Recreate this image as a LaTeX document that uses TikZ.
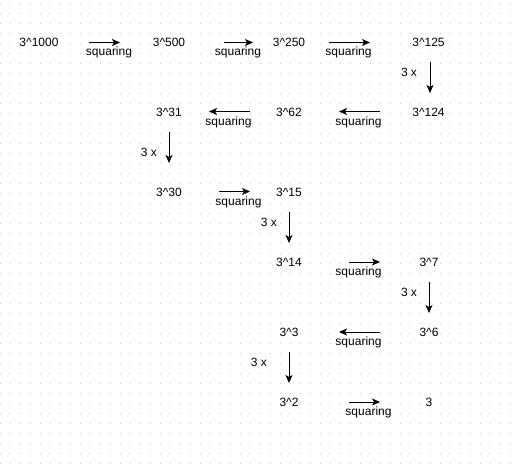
\documentclass[tikz,border=0pt]{standalone}
\usepackage{fontspec}
\setmainfont{Liberation Sans}
\usetikzlibrary{arrows.meta}
\begin{document}
\begin{tikzpicture}[x=1pt,y=-1pt,
  lbl/.style={inner sep=0pt,font=\fontsize{12}{14}\selectfont},
  sq/.style={inner sep=0pt,font=\fontsize{12}{14}\selectfont},
  conn/.style={line width=1pt,-{Stealth[length=8pt,width=7pt,inset=2pt]}}]
\useasboundingbox (0,0) rectangle (514,468);
\fill[white] (0,0) rectangle (514,468);
\foreach \i in {0,...,51}{\foreach \j in {0,...,46}{\fill[black!20] (\i*10+0.5,\j*10+3.5) circle (0.55);}}
% value nodes
\node[lbl] (a1000) at (39,42) {3\^{}1000};
\node[lbl] (a500) at (169,42) {3\^{}500};
\node[lbl] (a250) at (289,42) {3\^{}250};
\node[lbl] (a125) at (428.5,42) {3\^{}125};
\node[lbl] (a124) at (428.5,112) {3\^{}124};
\node[lbl] (a62) at (289,112) {3\^{}62};
\node[lbl] (a31) at (169,112) {3\^{}31};
\node[lbl] (a30) at (169,192) {3\^{}30};
\node[lbl] (a15) at (289,192) {3\^{}15};
\node[lbl] (a14) at (289,262) {3\^{}14};
\node[lbl] (a7) at (429,262) {3\^{}7};
\node[lbl] (a6) at (429,332) {3\^{}6};
\node[lbl] (a3) at (289,332) {3\^{}3};
\node[lbl] (a2) at (289,402) {3\^{}2};
\node[lbl] (a1) at (429,402) {3};
% arrow end points
\coordinate (p1s) at (89,42.5); \coordinate (p1e) at (120,42.5);
\coordinate (p2s) at (224,42.5); \coordinate (p2e) at (253,42.5);
\coordinate (p3s) at (329,42.5); \coordinate (p3e) at (370,42.5);
\coordinate (d1s) at (430,62); \coordinate (d1e) at (430,93);
\coordinate (l1s) at (380,111.5); \coordinate (l1e) at (339,111.5);
\coordinate (l2s) at (250,111.5); \coordinate (l2e) at (209,111.5);
\coordinate (d2s) at (169,132); \coordinate (d2e) at (169,163);
\coordinate (r4s) at (219,191.5); \coordinate (r4e) at (250,191.5);
\coordinate (d3s) at (289,212); \coordinate (d3e) at (289,243);
\coordinate (r5s) at (349,262); \coordinate (r5e) at (380,262);
\coordinate (d4s) at (429,282); \coordinate (d4e) at (429,313);
\coordinate (l3s) at (380,332); \coordinate (l3e) at (339,332);
\coordinate (d5s) at (289,352); \coordinate (d5e) at (289,383);
\coordinate (r6s) at (349,402); \coordinate (r6e) at (380,402);
% connectors
\draw[conn] (p1s) -- (p1e);
\draw[conn] (p2s) -- (p2e);
\draw[conn] (p3s) -- (p3e);
\draw[conn] (d1s) -- (d1e);
\draw[conn] (l1s) -- (l1e);
\draw[conn] (l2s) -- (l2e);
\draw[conn] (d2s) -- (d2e);
\draw[conn] (r4s) -- (r4e);
\draw[conn] (d3s) -- (d3e);
\draw[conn] (r5s) -- (r5e);
\draw[conn] (d4s) -- (d4e);
\draw[conn] (l3s) -- (l3e);
\draw[conn] (d5s) -- (d5e);
\draw[conn] (r6s) -- (r6e);
% labels
\node[sq] (s1) at (109,52) {squaring};
\node[sq] (s2) at (238,52) {squaring};
\node[sq] (s3) at (348.5,52) {squaring};
\node[sq] (s4) at (358.5,122) {squaring};
\node[sq] (s5) at (228.5,122) {squaring};
\node[sq] (s6) at (238.5,202) {squaring};
\node[sq] (s7) at (358.5,272) {squaring};
\node[sq] (s8) at (358.5,342) {squaring};
\node[sq] (s9) at (368.5,412) {squaring};
\node[sq] (t1) at (409,72) {3 x};
\node[sq] (t2) at (149,152) {3 x};
\node[sq] (t3) at (269,222) {3 x};
\node[sq] (t4) at (409,292) {3 x};
\node[sq] (t5) at (259,362) {3 x};
\end{tikzpicture}
\end{document}
